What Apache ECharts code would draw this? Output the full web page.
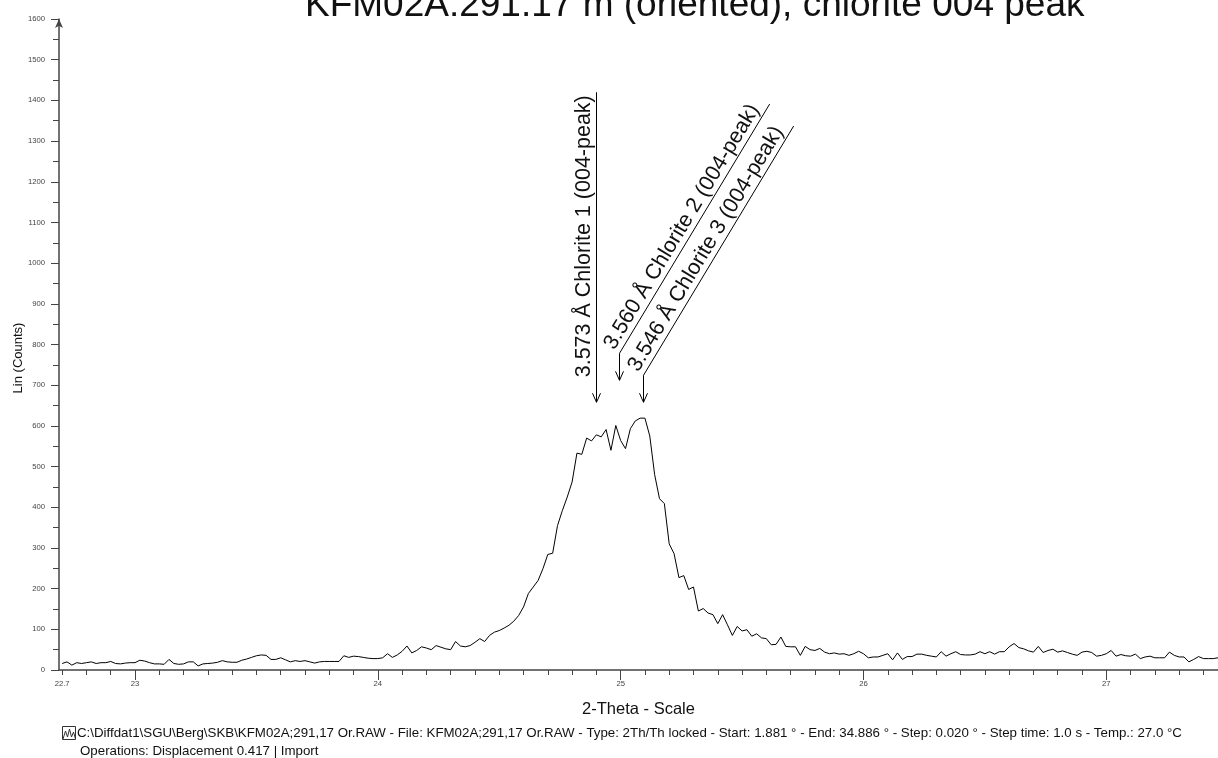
<!DOCTYPE html>
<html><head><meta charset="utf-8">
<script src="https://cdn.jsdelivr.net/npm/echarts@6/dist/echarts.min.js"></script>
<style>html,body{margin:0;padding:0;background:#fff}#c{width:1218px;height:758px}</style>
</head><body><div id="c"></div>
<script>
const FONT = '"Liberation Sans", Arial, sans-serif';
const titleText = 'KFM02A:291.17 m (oriented), chlorite 004 peak';
const xAxisName = '2-Theta - Scale';
const yAxisName = 'Lin (Counts)';
const footerLine1 = 'C:\\Diffdat1\\SGU\\Berg\\SKB\\KFM02A;291,17 Or.RAW - File: KFM02A;291,17 Or.RAW - Type: 2Th/Th locked - Start: 1.881 ° - End: 34.886 ° - Step: 0.020 ° - Step time: 1.0 s - Temp.: 27.0 °C';
const footerLine2 = 'Operations: Displacement 0.417 | Import';

// scan definition
const thetaStart = 22.70;
const thetaStep = 0.02;
const counts = [
  16, 20, 12, 18, 16, 18, 20, 16, 18, 18,
  21, 16, 15, 17, 18, 18, 24, 22, 18, 15,
  15, 14, 26, 16, 14, 15, 20, 20, 10, 15,
  16, 17, 19, 23, 20, 19, 19, 24, 27, 31,
  35, 37, 36, 26, 26, 30, 25, 20, 23, 21,
  23, 20, 17, 20, 21, 21, 21, 21, 35, 31,
  34, 33, 31, 29, 28, 28, 30, 40, 31, 37,
  46, 59, 42, 48, 57, 54, 50, 60, 56, 52,
  50, 70, 59, 57, 60, 68, 77, 70, 85, 93,
  97, 103, 110, 120, 134, 155, 188, 204, 220, 249,
  284, 287, 355, 392, 425, 462, 533, 530, 570, 563,
  578, 573, 591, 540, 601, 564, 544, 593, 612, 619,
  619, 575, 480, 421, 409, 310, 286, 227, 232, 198,
  204, 145, 151, 140, 136, 114, 136, 111, 85, 107,
  96, 99, 83, 89, 79, 77, 62, 63, 81, 58,
  57, 57, 36, 58, 50, 48, 53, 44, 40, 42,
  39, 40, 36, 40, 46, 40, 30, 32, 32, 36,
  40, 25, 42, 26, 33, 33, 39, 39, 36, 34,
  32, 45, 34, 40, 45, 38, 37, 37, 39, 45,
  40, 45, 39, 45, 45, 57, 65, 55, 52, 47,
  44, 58, 43, 48, 51, 44, 47, 43, 39, 36,
  44, 46, 43, 34, 36, 40, 48, 34, 38, 35,
  34, 39, 28, 32, 34, 30, 30, 30, 44, 36,
  32, 32, 20, 26, 33, 28, 28, 28, 30
];

const xLabelValues = [22.7, 23, 24, 25, 26, 27];
const xMajorTickValues = [23, 24, 25, 26, 27];
const xMinorTickValues = [];
for (let k = 0; k <= 47; k++) xMinorTickValues.push(+(22.7 + k * 0.1).toFixed(1));

// peak markers
const peakNames = ['3.573 Å Chlorite 1 (004-peak)', '3.560 Å Chlorite 2 (004-peak)', '3.546 Å Chlorite 3 (004-peak)'];
const peakTheta = [24.900, 24.993, 25.094];
const peakTipCounts = [658, 712, 658];
const peakStyle = ['vertical', 'diagonal', 'diagonal'];

const seriesData = counts.map((v, i) => [+(thetaStart + i * thetaStep).toFixed(2), v]);

const chart = echarts.init(document.getElementById('c'));
const axisColor = '#444';
chart.setOption({
  animation: false,
  grid: { left: 59, right: 0, top: 19, bottom: 88 },
  xAxis: [{
    type: 'value', min: 22.687, max: 27.46,
    axisLine: { show: true, onZero: false, lineStyle: { color: axisColor, width: 1.5 } },
    axisTick: { show: true, customValues: xMinorTickValues, length: 5, lineStyle: { color: axisColor } },
    axisLabel: { customValues: xLabelValues, formatter: v => String(v), fontSize: 7.7, color: '#444', margin: 10, fontFamily: FONT },
    splitLine: { show: false },
    name: xAxisName, nameLocation: 'middle', nameGap: 31,
    nameTextStyle: { fontSize: 16.5, color: '#111', fontFamily: FONT }
  }, {
    type: 'value', min: 22.687, max: 27.46, position: 'bottom',
    axisLine: { show: false },
    axisTick: { show: true, customValues: xMajorTickValues, length: 10, lineStyle: { color: axisColor } },
    axisLabel: { show: false },
    splitLine: { show: false }
  }],
  yAxis: {
    type: 'value', min: 0, max: 1600, interval: 100,
    axisLine: { show: true, symbol: ['none', 'arrow'], symbolSize: [6, 9], lineStyle: { color: axisColor, width: 1.5 } },
    axisTick: { show: true, length: 8, lineStyle: { color: axisColor } },
    minorTick: { show: true, splitNumber: 2, length: 6, lineStyle: { color: axisColor } },
    axisLabel: { fontSize: 7.7, color: '#444', margin: 14, fontFamily: FONT, formatter: v => String(v) },
    splitLine: { show: false }
  },
  series: [{
    type: 'line', xAxisIndex: 0, data: seriesData, showSymbol: false,
    lineStyle: { color: '#000', width: 1 }
  }]
});

function buildGraphics() {
  const g = [];
  // title (clipped at top as in the original)
  g.push({ type: 'text', x: 305, y: 6, silent: true,
    style: { text: titleText, font: '37px ' + FONT, fill: '#111', align: 'left', verticalAlign: 'middle' } });
  // y axis name
  g.push({ type: 'text', x: 18, y: 358, rotation: Math.PI / 2, silent: true,
    style: { text: yAxisName, font: '13px ' + FONT, fill: '#111', align: 'center', verticalAlign: 'middle' } });
  // footer icon
  g.push({ type: 'rect', shape: { x: 62.5, y: 726.5, width: 13, height: 13 }, silent: true,
    style: { fill: 'none', stroke: '#333', lineWidth: 1 } });
  g.push({ type: 'polyline', silent: true,
    shape: { points: [[63, 739], [65.5, 731], [67.5, 737], [69.5, 729], [71.5, 737], [73.5, 732], [75.5, 739]] },
    style: { fill: 'none', stroke: '#333', lineWidth: 1 } });
  g.push({ type: 'text', x: 77, y: 733, silent: true,
    style: { text: footerLine1, font: '13.3px ' + FONT, fill: '#111', align: 'left', verticalAlign: 'middle' } });
  g.push({ type: 'text', x: 80, y: 751, silent: true,
    style: { text: footerLine2, font: '13.3px ' + FONT, fill: '#111', align: 'left', verticalAlign: 'middle' } });

  // peak annotations
  const annFont = '21.5px ' + FONT;
  const ang = Math.atan2(249, 150);
  const ux = Math.cos(ang), uy = -Math.sin(ang);
  peakTheta.forEach((t, k) => {
    const tip = chart.convertToPixel({ xAxisIndex: 0, yAxisIndex: 0 }, [t, peakTipCounts[k]]);
    const tx = Math.round(tip[0]) + 0.5, ty = tip[1];
    const pts = [];
    let textX, textY, rot;
    if (peakStyle[k] === 'vertical') {
      pts.push([tx, ty], [tx, ty - 310]);
      textX = tx - 1; textY = ty - 25; rot = Math.PI / 2;
    } else {
      const cx = tx, cy = ty - 27;
      const len = 291;
      pts.push([tx, ty], [cx, cy], [cx + ux * len, cy + uy * len]);
      textX = cx - 1; textY = cy; rot = ang;
    }
    g.push({ type: 'polyline', silent: true, shape: { points: pts },
      style: { fill: 'none', stroke: '#000', lineWidth: 1 } });
    g.push({ type: 'polyline', silent: true,
      shape: { points: [[tx - 4, ty - 9], [tx, ty], [tx + 4, ty - 9]] },
      style: { fill: 'none', stroke: '#000', lineWidth: 1 } });
    g.push({ type: 'text', x: textX, y: textY, rotation: rot, silent: true,
      style: { text: peakNames[k], font: annFont, fill: '#111', align: 'left', verticalAlign: 'bottom' } });
  });
  return g;
}
chart.setOption({ graphic: buildGraphics() });
</script>
</body></html>
